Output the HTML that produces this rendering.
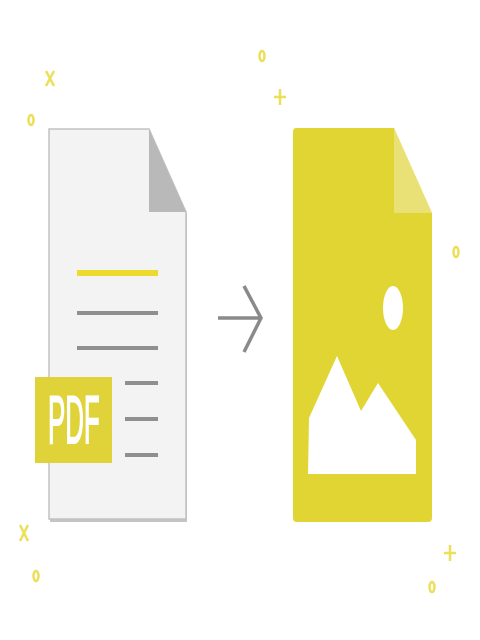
<!DOCTYPE html>
<html><head><style>html,body{margin:0;padding:0;background:#fff;width:480px;height:640px;overflow:hidden}</style></head>
<body>
<svg width="480" height="640" viewBox="0 0 480 640" xmlns="http://www.w3.org/2000/svg">
<path d="M50 131 H150 L187 214 V522 H50 Z" fill="#c4c4c4"/>
<path d="M49 129 H149 L186 212 V519 H49 Z" fill="#f3f3f3" stroke="#c2c2c2" stroke-width="1.5"/>
<path d="M149 129 L186 212 H149 Z" fill="#b9b9b9"/>
<rect x="77" y="270" width="81" height="6" fill="#ecdb2c"/>
<rect x="77" y="311" width="81" height="4" fill="#8f8f8f"/>
<rect x="77" y="346" width="81" height="4" fill="#8f8f8f"/>
<rect x="125" y="381" width="33" height="4" fill="#8f8f8f"/>
<rect x="125" y="417" width="33" height="4" fill="#8f8f8f"/>
<rect x="125" y="453" width="33" height="4" fill="#8f8f8f"/>
<rect x="35" y="377" width="77" height="86" fill="#e0d33a"/>
<text x="0" y="443" transform="translate(48 0) scale(0.38 1)" font-family="Liberation Sans, sans-serif" font-size="68" fill="#fff" stroke="#fff" stroke-width="2">PDF</text>
<path d="M218 318 H260 M244 286 L261 318 L244 352" fill="none" stroke="#8a8a8a" stroke-width="3.5"/>
<path d="M296 128 H394 L432 213 V518 Q432 522 428 522 H297 Q293 522 293 518 V132 Q293 128 296 128 Z" fill="#e1d533"/>
<path d="M394 128 L432 213 H394 Z" fill="#e9e176"/>
<ellipse cx="393" cy="308" rx="10" ry="22" fill="#fff"/>
<path d="M309 418 L337 356 L361 411 L378 383 L416 440 V474 H308 Z" fill="#fff"/>
<g stroke="#ecdf5a" stroke-width="2.5" fill="none">
<path d="M46 71 L54 86 M54 71 L46 86"/>
<path d="M20 525 L28 541 M28 525 L20 541"/>
<path d="M280 89 V105 M274 97 H286"/>
<path d="M450 545 V561 M444 553 H456"/>
<ellipse cx="31" cy="120" rx="2.5" ry="5"/>
<ellipse cx="262" cy="56" rx="2.5" ry="5"/>
<ellipse cx="456" cy="252" rx="2.5" ry="5"/>
<ellipse cx="432" cy="587" rx="2.5" ry="5"/>
<ellipse cx="36" cy="576" rx="2.5" ry="5"/>
</g>
</svg>
</body></html>
